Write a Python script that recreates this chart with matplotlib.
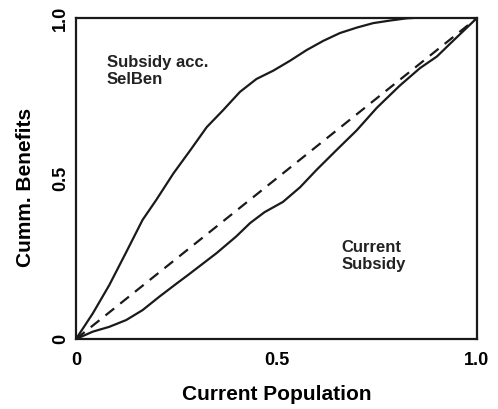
#import libraries
import matplotlib
matplotlib.use('Agg')
import matplotlib.pyplot as plt

#font like the original (Arial bold)
plt.rcParams['font.family'] = ['Liberation Sans', 'DejaVu Sans']
plt.rcParams['font.weight'] = 'bold'

#curve: subsidy according to SelBen
selben_x = [0, 0.042, 0.083, 0.125, 0.166, 0.2, 0.243, 0.285, 0.326, 0.367, 0.409,
            0.45, 0.492, 0.534, 0.575, 0.617, 0.658, 0.7, 0.741, 0.783, 0.825, 0.87, 0.92, 1.0]
selben_y = [0, 0.08, 0.168, 0.27, 0.371, 0.433, 0.516, 0.588, 0.66, 0.713, 0.77,
            0.81, 0.836, 0.867, 0.9, 0.929, 0.953, 0.97, 0.984, 0.992, 0.999, 1.002, 1.002, 1.0]

#curve: current subsidy
current_x = [0, 0.042, 0.083, 0.125, 0.166, 0.208, 0.25, 0.28, 0.351, 0.4, 0.434,
             0.47, 0.516, 0.559, 0.6, 0.65, 0.7, 0.75, 0.808, 0.858, 0.9, 0.933, 1.0]
current_y = [0, 0.023, 0.038, 0.059, 0.09, 0.132, 0.172, 0.2, 0.268, 0.32, 0.361,
             0.395, 0.427, 0.473, 0.527, 0.589, 0.65, 0.72, 0.79, 0.844, 0.88, 0.92, 1.0]

#line of equality
equal_x = [0, 1]
equal_y = [0, 1]

#ticks
ticks = [0, 0.5, 1.0]
tick_labels = ['0', '0.5', '1.0']

#set figure size
fig = plt.figure(figsize=(4.98, 4.09), dpi=100)
ax = fig.add_axes([0.1526, 0.1711, 0.8052, 0.7849])

#plot curves
ax.plot(selben_x, selben_y, color='#1a1a1a', lw=1.6, solid_joinstyle='round')
ax.plot(current_x, current_y, color='#1a1a1a', lw=1.6, solid_joinstyle='round')
ax.plot(equal_x, equal_y, color='#1a1a1a', lw=1.6, dashes=(5, 3.5))

#annotations
ax.text(0.077, 0.885, 'Subsidy acc.\nSelBen', fontsize=12, fontweight='bold',
        va='top', ha='left', color='#222222')
ax.text(0.663, 0.31, 'Current\nSubsidy', fontsize=12, fontweight='bold',
        va='top', ha='left', color='#222222')

#axes limits and ticks
ax.set_xlim(0, 1)
ax.set_ylim(0, 1)
ax.set_xticks(ticks)
ax.set_xticklabels(tick_labels)
ax.set_yticks(ticks)
ax.set_yticklabels(tick_labels, rotation=90, va='center')
ax.tick_params(axis='x', length=0, labelsize=13, pad=9)
ax.tick_params(axis='y', length=0, labelsize=13, pad=5)

#frame
for s in ax.spines.values():
    s.set_linewidth(1.6)
    s.set_color('#1a1a1a')

#labels
ax.set_xlabel('Current Population', fontsize=15, fontweight='bold', va='center')
ax.set_ylabel('Cumm. Benefits', fontsize=15, fontweight='bold')
ax.xaxis.set_label_coords(0.5, -0.174)
ax.yaxis.set_label_coords(-0.102, 0.473)

fig.savefig('out.png', dpi=100)
